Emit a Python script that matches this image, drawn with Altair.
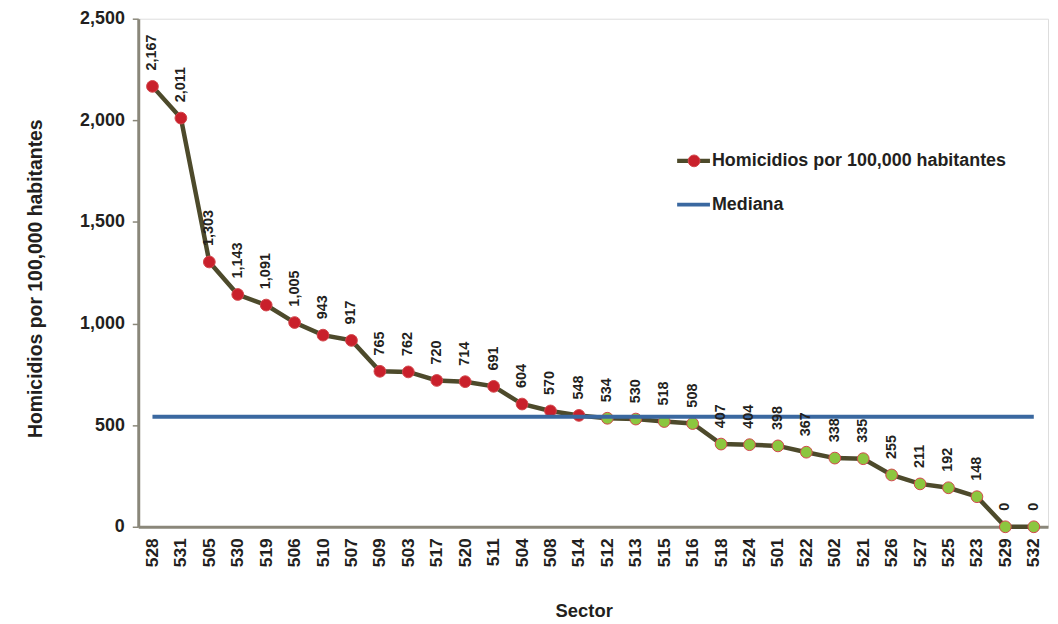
import altair as alt
import pandas as pd

sectors = ["528", "531", "505", "530", "519", "506", "510", "507", "509", "503",
           "517", "520", "511", "504", "508", "514", "512", "513", "515", "516",
           "518", "524", "501", "522", "502", "521", "526", "527", "525", "523",
           "529", "532"]
values = [2167, 2011, 1303, 1143, 1091, 1005, 943, 917, 765, 762,
          720, 714, 691, 604, 570, 548, 534, 530, 518, 508,
          407, 404, 398, 367, 338, 335, 255, 211, 192, 148,
          0, 0]
median_value = 541
y_ticks = [0, 500, 1000, 1500, 2000, 2500]
legend_labels = ["Homicidios por 100,000 habitantes", "Mediana"]

OLIVE = "#4d4a2b"
RED = "#c9202b"
GREEN = "#8cc63f"
BLUE = "#3a68a0"
TEXT = "#231f20"
FONT = "Liberation Sans"

df = pd.DataFrame({"sector": sectors, "value": values})
df["mediana"] = median_value

x_enc = alt.X(
    "sector:N",
    sort=sectors,
    scale=alt.Scale(type="point", padding=0.5),
    axis=alt.Axis(
        title="Sector",
        labelAngle=270,
        labelFontSize=17.5,
        labelFontWeight="bold",
        labelColor=TEXT,
        labelPadding=11,
        ticks=False,
        domainColor="#8a877a",
        domainWidth=3,
        titleFontSize=18.5,
        titleFontWeight="bold",
        titleColor=TEXT,
        titleX=448,
        titleY=84,
        titleBaseline="middle",
    ),
)
y_axis = alt.Axis(
    values=y_ticks,
    format=",.0f",
    title="Homicidios por 100,000 habitantes",
    labelFontSize=18,
    labelFontWeight="bold",
    labelColor=TEXT,
    labelPadding=8,
    tickSize=6,
    tickColor="#8a877a",
    tickWidth=1.5,
    domainColor="#8a877a",
    domainWidth=3,
    grid=False,
    titleFontSize=19.5,
    titleFontWeight="bold",
    titleColor=TEXT,
    titleX=-103,
    titleY=261,
    titleAngle=270,
    titleAlign="center",
    titleBaseline="middle",
)
y_scale = alt.Scale(domain=[0, 2500], nice=False)
y_enc = alt.Y("value:Q", scale=y_scale, axis=y_axis)

base = alt.Chart(df)

line = base.mark_line(color=OLIVE, strokeWidth=4.5).encode(x=x_enc, y=y_enc)

points = base.mark_point(filled=True, size=140, opacity=1, stroke="#d2474c", strokeWidth=1).encode(
    x=x_enc,
    y=y_enc,
    fill=alt.condition(alt.datum.value >= median_value, alt.value(RED), alt.value(GREEN)),
)

median_line = base.mark_line(color=BLUE, strokeWidth=4).encode(
    x=x_enc, y=alt.Y("mediana:Q", scale=y_scale, axis=y_axis)
)

labels = base.mark_text(
    angle=270, align="left", baseline="middle", dx=16,
    fontSize=14.5, fontWeight="bold", color=TEXT, font=FONT,
).encode(x=x_enc, y=y_enc, text=alt.Text("value:Q", format=",.0f"))

leg = pd.DataFrame({"label": legend_labels})
leg1 = alt.Chart(leg).transform_filter(alt.datum.label == legend_labels[0])
leg2 = alt.Chart(leg).transform_filter(alt.datum.label == legend_labels[1])

leg_rule1 = leg1.mark_rule(color=OLIVE, strokeWidth=4.5).encode(
    x=alt.value(542), x2=alt.value(575), y=alt.value(143)
)
leg_pt1 = leg1.mark_point(filled=True, size=140, opacity=1, fill=RED, stroke="#d2474c", strokeWidth=1).encode(
    x=alt.value(559), y=alt.value(143)
)
leg_txt1 = leg1.mark_text(
    align="left", baseline="middle", fontSize=18, fontWeight="bold", color=TEXT, font=FONT
).encode(x=alt.value(577), y=alt.value(143), text="label:N")
leg_rule2 = leg2.mark_rule(color=BLUE, strokeWidth=4).encode(
    x=alt.value(542), x2=alt.value(575), y=alt.value(187)
)
leg_txt2 = leg2.mark_text(
    align="left", baseline="middle", fontSize=18, fontWeight="bold", color=TEXT, font=FONT
).encode(x=alt.value(577), y=alt.value(187), text="label:N")

chart = alt.layer(
    line, points, median_line, labels,
    leg_rule1, leg_pt1, leg_txt1, leg_rule2, leg_txt2,
).properties(
    width=915,
    height=511,
    autosize=alt.AutoSizeParams(type="none"),
    padding={"left": 131, "top": 9, "right": 2, "bottom": 94},
    background="white",
).configure_view(
    fill="#eeebdf", stroke=OLIVE, strokeWidth=3
).configure(font=FONT)

chart.save("out.html", embed_options={"renderer": "svg", "actions": False})
